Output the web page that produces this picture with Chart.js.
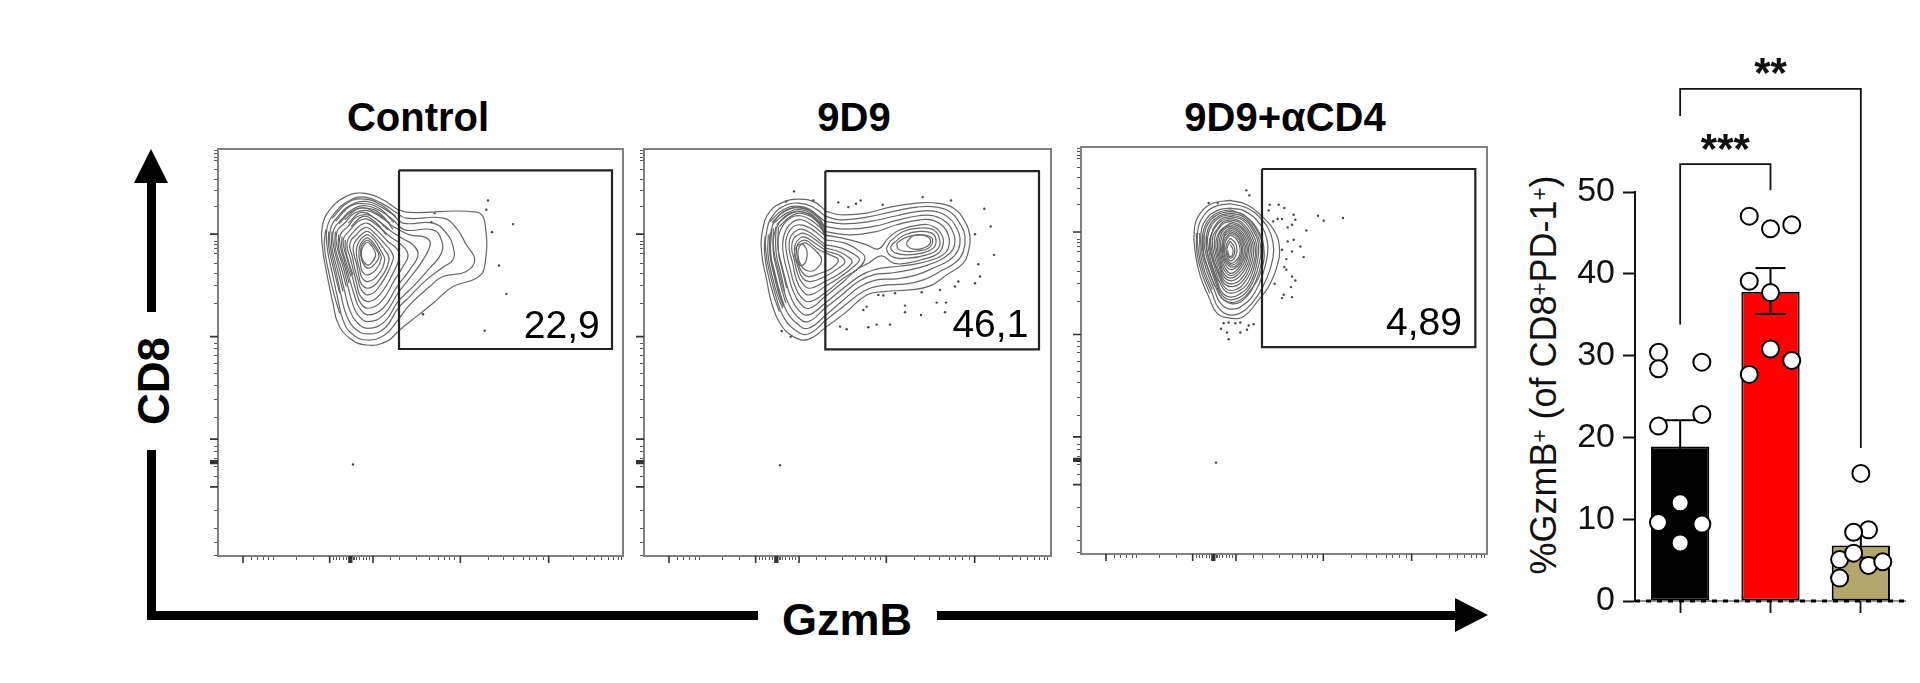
<!DOCTYPE html>
<html>
<head>
<meta charset="utf-8">
<title>GzmB flow panels</title>
<script src="https://cdn.jsdelivr.net/npm/chart.js@4"></script>
<style>
    html, body { margin: 0; padding: 0; background: #fff; }
    body { position: relative; width: 1920px; height: 683px; overflow: hidden; font-family: "Liberation Sans", Arial, sans-serif; color: #000; }
    canvas { position: absolute; }
    .label { position: absolute; line-height: 1; white-space: nowrap; }
    .head { position: absolute; font-weight: bold; font-size: 40px; top: 97px; transform: translateX(-50%); }
    .rot { transform: translate(-50%, -50%) rotate(-90deg); }
    .ink { position: absolute; background: #000; }
    .tri { position: absolute; width: 0; height: 0; }
    sup { font-size: 0.62em; line-height: 0; vertical-align: 0.42em; }
</style>
</head>
<body>
<div class="label head" style="left:418px">Control</div>
<div class="label head" style="left:854px">9D9</div>
<div class="label head" style="left:1285px">9D9+αCD4</div>

<!-- big CD8 / GzmB arrows -->
<div class="ink" style="left:147px;top:180px;width:9px;height:132px"></div>
<div class="tri" style="left:134px;top:149px;border-left:17px solid transparent;border-right:17px solid transparent;border-bottom:34px solid #000"></div>
<div class="ink" style="left:147px;top:450px;width:9px;height:170px"></div>
<div class="ink" style="left:147px;top:611px;width:611px;height:9px"></div>
<div class="ink" style="left:937px;top:611px;width:520px;height:9px"></div>
<div class="tri" style="left:1455px;top:598px;border-top:17.5px solid transparent;border-bottom:17.5px solid transparent;border-left:33px solid #000"></div>
<div class="label rot" style="left:154px;top:381px;font-size:44px;font-weight:bold">CD8</div>
<div class="label" style="left:847px;top:597px;font-size:45px;font-weight:bold;transform:translateX(-50%)">GzmB</div>
<div class="label rot" style="left:1544px;top:375px;font-size:36px;color:#111">%GzmB<sup>+</sup> (of CD8<sup>+</sup>PD-1<sup>+</sup>)</div>

<canvas id="flow0" width="419" height="421" style="left:206px;top:147px"></canvas>
<canvas id="flow1" width="421" height="421" style="left:632px;top:147px"></canvas>
<canvas id="flow2" width="420" height="421" style="left:1069px;top:145px"></canvas>
<canvas id="bars" width="420" height="640" style="left:1500px;top:0"></canvas>

<script>
// Bar chart data
const groups = ['Control', '9D9', '9D9+αCD4'];
const groupColors = ['#000000', '#ff0000', '#b3a76c'];
const barMeans = [18.9, 37.8, 6.8];
const errUpper = [22.1, 40.7, 8.3];
const errLower = [15.7, 35.1, 5.3];
const yTickStep = 10;

const controlDotX = [-0.24, -0.24, 0.24, 0.24, -0.24, 0, -0.24, 0.24, 0];
const controlDotY = [30.4, 28.4, 29.2, 22.8, 21.4, 12.0, 9.6, 9.4, 7.1];
const nineDotX = [0.765, 1, 1.235, 0.765, 1, 1, 1.235, 0.765];
const nineDotY = [47.05, 45.5, 46.0, 39.1, 37.7, 30.8, 29.4, 27.7];
const cd4DotX = [2, 2.085, 1.92, 1.765, 1.92, 2.085, 2.243, 1.765];
const cd4DotY = [15.6, 8.7, 8.4, 5.06, 5.85, 4.35, 4.8, 2.8];

const outerBracket = [[0, 59.3], [0, 62.6], [2, 62.6], [2, 18.7]];
const innerBracket = [[0, 33.8], [0, 53.4], [1, 53.4], [1, 50.2]];
const starLabels = [['**', 1, 62.8], ['***', 0.5, 53.6]];

// Flow panels: channel ranges, gates and gate percentages
const panelNames = ['Control', '9D9', '9D9+αCD4'];
const xRanges = [[-275, 940], [-318, 903], [-298, 920]];
const yRanges = [[-92, 1127], [-92, 1127], [-98, 1122]];
const gatesX = [[268, 907], [226, 867], [245, 885]];
const gatesY = [[-28, 507], [-26, 508], [-32, 502]];
const gateTexts = ['22,9', '46,1', '4,89'];
const gateTextX = [870, 835, 845];
const gateTextY = [475, 470, 465];

// Tick positions measured from the panel's top / left edge
const yMajorTicks = [255, 562, 869, 934, 938, 942, 1012];
const yMinorTicks = [4, 14, 24, 34, 62, 90, 124, 172, 277, 287, 297, 312, 342, 372, 410, 464, 582, 597, 617, 642, 672, 707, 750, 804, 892, 907, 927, 952, 982, 1082, 1137, 1179, 1217];
const xMajorTicks = [75, 335, 393, 397, 401, 465, 727, 992];
const xMinorTicks = [100, 117, 135, 153, 167, 235, 285, 345, 355, 365, 375, 385, 405, 410, 415, 425, 435, 445, 455, 517, 545, 595, 635, 660, 680, 695, 710, 810, 855, 885, 915, 935, 955, 975, 1065, 1105, 1130, 1150, 1170, 1185, 1200, 1210];

const controlContours = [
    [[265,90],[300,98],[500,97],[525,125],[525,260],[500,295],[430,320],[370,370],[320,410],[270,450],[230,485],[170,495],[120,475],[85,430],[70,370],[55,300],[38,200],[38,140],[60,90],[110,50],[160,40],[210,55]],
    [[255,95],[290,115],[400,115],[440,145],[470,195],[495,240],[470,275],[400,290],[360,320],[300,375],[265,420],[225,465],[170,480],[125,460],[100,420],[85,360],[70,290],[52,200],[52,145],[75,100],[120,62],[165,52],[215,70]],
    [[250,105],[280,130],[370,130],[410,160],[430,200],[430,240],[400,262],[350,300],[300,350],[265,385],[225,445],[175,462],[135,445],[110,405],[95,350],[80,280],[62,200],[62,150],[85,110],[125,75],[170,65],[215,82]],
    [[250,120],[285,150],[370,150],[395,180],[395,220],[360,265],[310,320],[265,365],[225,425],[175,445],[140,425],[120,390],[105,335],[90,270],[72,200],[72,150],[95,120],[130,88],[170,78],[215,95]],
    [[250,140],[300,165],[345,172],[362,190],[340,240],[300,295],[265,340],[222,405],[175,425],[145,405],[130,375],[115,320],[100,260],[82,200],[82,155],[105,130],[135,100],[170,92],[210,110]],
    [[245,155],[285,180],[310,195],[325,225],[300,270],[262,320],[220,385],[175,405],[150,385],[137,355],[122,305],[108,255],[92,200],[92,165],[115,140],[140,112],[172,105],[205,122]],
    [[240,170],[275,195],[295,225],[280,260],[255,300],[215,365],[175,385],[152,368],[140,335],[128,290],[115,245],[102,200],[102,175],[122,150],[145,125],[172,118],[200,135]],
    [[235,185],[260,205],[270,225],[255,270],[210,345],[175,365],[152,348],[142,315],[132,275],[122,235],[112,200],[115,178],[130,158],[150,138],[172,130],[198,148]],
    [[228,195],[245,215],[250,240],[205,325],[175,345],[155,330],[145,300],[135,265],[128,230],[120,200],[125,180],[140,165],[155,150],[172,143],[195,160]],
    [[222,205],[238,240],[205,305],[175,325],[155,312],[147,285],[140,250],[132,220],[132,195],[145,175],[160,160],[175,155],[195,172]],
    [[215,215],[225,240],[205,285],[175,305],[157,293],[150,270],[143,240],[140,210],[148,185],[162,170],[175,165],[195,182]],
    [[208,215],[215,235],[200,268],[175,285],[158,275],[152,250],[148,225],[150,200],[162,180],[175,175],[193,192]],
    [[192,198],[208,228],[193,255],[175,265],[160,250],[153,225],[155,200],[165,185],[176,182]],
    [[188,200],[198,225],[185,250],[172,255],[158,238],[155,215],[163,195],[175,188]],
    // denser shoulder on the left of the main population
    [[48,150],[44,200],[60,290],[75,350],[90,400]],
    [[57,155],[57,200],[75,280],[90,340]],
    [[67,155],[67,205],[85,275],[100,335]],
    [[77,155],[77,205],[95,265],[110,320]],
    [[87,165],[87,205],[105,260],[118,310]],
    [[97,170],[97,205],[112,255],[124,290]],
    [[107,180],[107,205],[118,250],[130,285]],
    [[68,115],[115,68],[165,58],[215,76],[258,110]],
    [[78,125],[120,80],[168,72],[212,88],[252,128]],
    [[88,132],[128,94],[170,85],[212,102],[250,148]],
    [[105,120],[150,85],[200,100],[240,130]],
    [[115,130],[155,98],[195,115],[235,150]],
    [[125,140],[160,110],[195,125],[230,165]]
];
const nineContours = [
    [[230,95],[270,105],[350,100],[420,82],[500,70],[560,70],[610,85],[645,125],[660,170],[655,215],[640,250],[590,285],[540,318],[480,330],[400,335],[350,345],[290,395],[230,440],[175,478],[130,470],[90,430],[65,370],[50,300],[35,220],[38,150],[60,95],[105,65],[145,58],[190,65]],
    [[228,110],[270,120],[350,112],[430,95],[500,82],[560,82],[605,100],[632,135],[645,170],[640,215],[620,245],[570,275],[520,300],[470,312],[390,318],[340,335],[280,380],[228,420],[175,462],[135,450],[100,410],[78,350],[62,290],[48,220],[50,155],[70,105],[110,75],[145,70],[185,80]],
    [[225,125],[280,132],[360,125],[440,108],[505,95],[555,95],[598,115],[620,145],[630,175],[625,210],[600,240],[555,262],[500,285],[440,297],[380,300],[330,320],[275,365],[228,405],[175,445],[140,430],[108,390],[88,335],[72,280],[60,220],[62,160],[80,115],[115,88],[148,82],[185,95]],
    [[222,140],[290,148],[370,140],[440,122],[505,108],[550,108],[590,128],[608,155],[615,180],[608,210],[580,235],[535,255],[480,270],[420,280],[370,285],[325,305],[270,350],[225,385],[175,425],[142,410],[115,370],[98,320],[85,270],[72,215],[72,165],[90,125],[120,100],[150,95],[185,108]],
    [[222,155],[300,165],[380,155],[440,135],[510,120],[550,122],[580,140],[595,165],[598,190],[585,220],[540,242],[480,255],[420,262],[380,268],[335,285],[280,325],[225,370],[175,405],[145,390],[122,350],[108,305],[95,255],[85,210],[85,170],[100,135],[125,112],[152,108],[185,122]],
    [[222,165],[300,180],[350,195],[385,207],[415,175],[450,150],[510,135],[550,140],[575,165],[580,190],[565,220],[520,238],[470,250],[430,250],[395,228],[355,250],[320,270],[275,310],[225,350],[178,385],[150,370],[128,330],[115,285],[102,235],[98,190],[108,150],[130,125],[155,120],[185,135]],
    [[225,180],[285,190],[330,215],[345,235],[325,265],[280,295],[230,335],[180,365],[152,350],[132,310],[120,265],[110,220],[108,180],[125,145],[150,135],[185,148]],
    [[225,195],[275,205],[315,225],[328,240],[305,265],[265,295],[225,320],[180,345],[155,330],[138,295],[128,250],[118,210],[120,175],[135,155],[155,148],[185,162]],
    [[228,205],[265,215],[300,235],[305,250],[270,280],[225,305],[180,325],[157,310],[142,280],[133,240],[125,205],[130,178],[145,165],[160,160],[190,175]],
    [[232,215],[265,225],[285,245],[265,265],[225,290],[180,305],[158,295],[145,265],[135,225],[135,195],[150,175],[165,172],[195,190]],
    [[240,225],[265,240],[245,265],[210,280],[175,290],[155,275],[145,250],[140,220],[142,195],[155,183],[170,182],[200,205]],
    [[195,210],[215,240],[195,270],[170,272],[152,255],[144,225],[148,200],[160,190],[172,192]],
    [[172,225],[165,250],[152,256],[138,240],[134,215],[142,198],[157,193],[168,205]],
    [[420,185],[460,155],[510,145],[550,150],[568,175],[565,205],[530,225],[470,235],[430,232],[410,210]],
    [[430,190],[465,165],[510,155],[545,160],[558,180],[550,205],[515,220],[470,225],[438,220],[422,205]],
    [[440,190],[470,172],[510,165],[540,170],[548,185],[535,205],[505,213],[470,215],[445,208]],
    [[470,187],[490,168],[520,166],[542,182],[525,203],[490,208],[472,198]],
    // dark band down the left side and over the top of the first peak
    [[45,170],[44,225],[58,300],[72,350],[88,395]],
    [[55,165],[54,225],[68,295],[82,345],[98,385]],
    [[60,160],[60,225],[73,290],[86,340],[100,380]],
    [[65,150],[62,220],[76,285],[90,340],[102,375]],
    [[70,145],[70,218],[84,282],[97,335],[108,370]],
    [[78,140],[78,215],[92,280],[104,335]],
    [[85,140],[85,215],[98,275],[110,325]],
    [[60,125],[100,90],[150,80],[200,105],[228,150]],
    [[66,128],[104,95],[152,85],[200,110],[228,155]],
    [[72,130],[110,100],[155,90],[200,118],[228,165]],
    [[80,135],[118,104],[157,96],[202,124],[228,172]],
    [[88,140],[125,108],[160,102],[205,130],[228,178]]
];
const cd4Contours = [
    [[150,62],[200,75],[245,110],[280,150],[297,200],[290,260],[265,320],[235,360],[190,410],[150,415],[110,400],[85,350],[60,290],[45,220],[42,150],[60,100],[100,70]],
    [[150,72],[200,85],[245,120],[272,165],[280,210],[272,260],[248,320],[215,370],[180,400],[145,405],[115,385],[95,340],[70,280],[55,220],[52,155],[70,108],[105,80]],
    [[150,85],[195,95],[240,135],[260,180],[262,220],[250,275],[225,335],[190,375],[150,388],[120,370],[102,330],[80,275],[65,220],[62,160],[78,118],[112,92]],
    [[150,90],[195,110],[232,150],[250,200],[245,265],[215,325],[170,365],[130,360],[105,320],[85,270],[68,215],[68,160],[85,120],[115,98]],
    [[150,95],[190,105],[225,145],[245,190],[245,240],[228,300],[200,350],[160,372],[125,355],[108,315],[90,265],[75,215],[72,165],[88,125],[118,102]],
    [[150,100],[190,112],[222,150],[240,195],[238,245],[218,305],[190,345],[152,360],[125,346],[108,305],[92,260],[80,212],[78,168],[92,130],[118,108]],
    [[150,105],[190,118],[220,155],[235,200],[230,250],[210,310],[180,342],[150,352],[125,338],[110,300],[95,255],[85,210],[82,170],[95,135],[120,112]],
    [[150,110],[188,122],[216,160],[230,202],[224,252],[203,308],[172,335],[142,338],[120,312],[105,270],[94,230],[88,190],[98,150],[122,118]],
    [[150,115],[185,128],[212,165],[225,205],[218,255],[195,305],[165,330],[135,325],[115,285],[102,245],[93,205],[92,170],[105,142],[125,122]],
    [[150,120],[182,132],[208,168],[220,207],[213,252],[190,300],[160,320],[132,312],[116,275],[105,237],[97,200],[98,168],[112,147],[128,127]],
    [[150,125],[180,138],[205,172],[215,210],[208,250],[185,295],[155,312],[130,300],[118,265],[108,230],[102,195],[105,165],[118,143],[132,130]],
    [[150,130],[180,143],[202,176],[210,210],[202,252],[178,290],[152,303],[130,290],[119,255],[110,220],[107,185],[118,155]],
    [[150,135],[178,148],[198,180],[205,210],[195,255],[172,285],[150,295],[130,280],[120,245],[112,210],[113,175],[125,150]],
    [[150,140],[176,153],[194,182],[201,212],[190,252],[168,280],[149,287],[131,270],[121,238],[116,205],[119,172],[131,150]],
    [[150,145],[175,158],[190,185],[197,215],[185,250],[165,275],[148,280],[132,260],[123,230],[120,200],[125,170],[137,153]],
    [[150,150],[174,163],[188,190],[192,218],[180,250],[160,268],[143,265],[130,243],[124,212],[128,182],[135,161]],
    [[150,155],[172,168],[185,195],[187,220],[175,250],[155,262],[138,250],[128,225],[126,195],[132,170]],
    [[150,160],[170,172],[182,198],[183,222],[170,248],[152,256],[138,243],[130,218],[130,190],[134,177]],
    [[150,165],[168,178],[178,200],[178,225],[165,245],[150,250],[138,235],[132,210],[135,185]],
    [[150,175],[165,190],[170,215],[160,238],[148,242],[138,220],[138,195]],
    [[150,185],[162,202],[162,222],[150,235],[140,218],[142,198]],
    [[150,195],[158,210],[155,228],[146,228],[142,212]],
    // extra rings where the population is darkest
    [[48,160],[50,220],[66,285],[88,340]],
    [[58,160],[60,220],[75,280],[96,330]],
    [[68,165],[70,220],[84,270],[104,320]],
    [[78,170],[80,215],[94,262],[112,305]],
    [[88,175],[90,215],[104,255],[120,292]]
];
const controlDots = [[535,62],[530,90],[610,133],[547,157],[568,257],[590,342],[525,452],[340,403],[375,100],[365,127],[130,853]];
const nineDots = [[132,35],[190,62],[108,65],[265,68],[295,82],[318,72],[332,62],[398,75],[518,52],[603,62],[703,87],[722,140],[732,225],[685,253],[675,310],[690,290],[560,368],[588,368],[585,397],[465,377],[465,397],[513,405],[380,434],[355,442],[420,434],[290,448],[270,440],[340,390],[350,380],[570,330],[515,337],[435,340],[385,345],[400,347],[615,320],[625,305],[675,163],[90,855],[95,453],[122,470]];
const cd4Dots = [[198,32],[207,47],[268,75],[295,75],[312,85],[265,92],[340,105],[345,120],[335,135],[322,143],[292,118],[305,118],[278,125],[378,152],[413,108],[430,123],[488,115],[340,180],[322,185],[360,200],[305,210],[370,232],[335,215],[318,238],[312,262],[318,270],[335,290],[345,302],[283,312],[332,322],[310,345],[335,352],[305,355],[130,430],[145,428],[165,430],[180,428],[205,437],[220,433],[122,447],[140,458],[180,458],[145,478],[200,450],[112,70],[85,70],[107,848]];

const allContours = [controlContours, nineContours, cd4Contours];
const allDots = [controlDots, nineDots, cd4Dots];
const FONT = '"Liberation Sans", Arial, sans-serif';

// Frame, long ticks and the gate percentage of one flow panel
const flowPanelPlugin = {
    id: 'flowPanel',
    afterDatasetsDraw(chart, args, opts) {
        const { ctx, chartArea: a, scales: { x, y } } = chart;
        ctx.save();
        ctx.strokeStyle = '#808080';
        ctx.lineWidth = 2;
        ctx.strokeRect(a.left, a.top, a.right - a.left, a.bottom - a.top);
        ctx.strokeStyle = '#333';
        ctx.lineWidth = 1.6;
        ctx.beginPath();
        yMajorTicks.forEach(t => {
            const py = y.getPixelForValue(y.min + t);
            ctx.moveTo(a.left - 8, py);
            ctx.lineTo(a.left, py);
        });
        xMajorTicks.forEach(t => {
            const px = x.getPixelForValue(x.min + t);
            ctx.moveTo(px, a.bottom);
            ctx.lineTo(px, a.bottom + 7);
        });
        ctx.stroke();
        ctx.fillStyle = '#000';
        ctx.font = '39px ' + FONT;
        ctx.textAlign = 'right';
        ctx.textBaseline = 'alphabetic';
        ctx.fillText(opts.text, x.getPixelForValue(opts.textX), y.getPixelForValue(opts.textY));
        ctx.restore();
    }
};

function makeFlowChart(i) {
    const gx = gatesX[i], gy = gatesY[i];
    const datasets = allContours[i].map(loop => ({
        data: loop.concat(loop.length > 5 ? [loop[0]] : []).map(p => ({ x: p[0], y: p[1] })),
        showLine: true,
        tension: 0.45,
        borderColor: '#666666',
        borderWidth: 1.2,
        pointRadius: 0
    }));
    datasets.push({
        data: allDots[i].map(p => ({ x: p[0], y: p[1] })),
        showLine: false,
        pointRadius: 1.2,
        pointBorderWidth: 0,
        pointBackgroundColor: '#444'
    });
    datasets.push({
        data: [[gx[0], gy[0]], [gx[1], gy[0]], [gx[1], gy[1]], [gx[0], gy[1]], [gx[0], gy[0]]].map(p => ({ x: p[0], y: p[1] })),
        showLine: true,
        borderColor: '#222',
        borderWidth: 2.2,
        pointRadius: 0,
        order: -1
    });

    new Chart(document.getElementById('flow' + i), {
        type: 'scatter',
        data: { datasets },
        plugins: [flowPanelPlugin],
        options: {
            responsive: false,
            animation: false,
            layout: { autoPadding: false, padding: { top: 2, right: 2 } },
            scales: {
                x: {
                    type: 'linear',
                    min: xRanges[i][0],
                    max: xRanges[i][1],
                    afterBuildTicks: s => { s.ticks = xMinorTicks.map(t => ({ value: s.min + t })); },
                    afterFit: s => { s.height = 12; },
                    ticks: { display: false, autoSkip: false },
                    grid: { drawOnChartArea: false, tickLength: 4, tickColor: '#555', tickWidth: 1 },
                    border: { display: false }
                },
                y: {
                    type: 'linear',
                    reverse: true,
                    min: yRanges[i][0],
                    max: yRanges[i][1],
                    afterBuildTicks: s => { s.ticks = yMinorTicks.map(t => ({ value: s.min + t })); },
                    afterFit: s => { s.width = 12; },
                    ticks: { display: false, autoSkip: false },
                    grid: { drawOnChartArea: false, tickLength: 4, tickColor: '#555', tickWidth: 1 },
                    border: { display: false }
                }
            },
            plugins: {
                legend: { display: false },
                tooltip: { enabled: false },
                flowPanel: { text: gateTexts[i], textX: gateTextX[i], textY: gateTextY[i] }
            }
        }
    });
}

// Significance stars over the brackets
const starPlugin = {
    id: 'stars',
    afterDatasetsDraw(chart) {
        const { ctx, scales: { xDots, y } } = chart;
        ctx.save();
        ctx.fillStyle = '#111';
        ctx.font = 'bold 42px ' + FONT;
        ctx.textAlign = 'center';
        ctx.textBaseline = 'alphabetic';
        starLabels.forEach(s => {
            ctx.fillText(s[0], xDots.getPixelForValue(s[1]), y.getPixelForValue(s[2]));
        });
        ctx.restore();
    }
};

function lineSet(points, extra) {
    return Object.assign({
        type: 'line',
        xAxisID: 'xDots',
        yAxisID: 'y',
        data: points.map(p => ({ x: p[0], y: p[1] })),
        borderColor: '#111',
        borderWidth: 1.8,
        pointRadius: 0,
        tension: 0,
        clip: false
    }, extra);
}

function makeBarChart() {
    const errorSets = groups.map((g, i) => lineSet([[i, errLower[i]], [i, errUpper[i]]], {
        borderColor: '#000',
        borderWidth: 2,
        pointStyle: 'line',
        pointRadius: 15,
        pointBorderColor: '#000',
        pointBorderWidth: 2,
        order: 3
    }));
    const dotSets = [[controlDotX, controlDotY], [nineDotX, nineDotY], [cd4DotX, cd4DotY]].map(d => ({
        type: 'scatter',
        xAxisID: 'xDots',
        yAxisID: 'y',
        data: d[0].map((x, k) => ({ x, y: d[1][k] })),
        pointRadius: 8.5,
        pointBorderWidth: 2,
        pointBorderColor: '#000',
        pointBackgroundColor: '#fff',
        clip: false,
        order: 1
    }));

    new Chart(document.getElementById('bars'), {
        data: {
            labels: groups,
            datasets: [
                {
                    type: 'bar',
                    data: barMeans,
                    backgroundColor: groupColors,
                    borderColor: '#000',
                    borderWidth: 2,
                    borderSkipped: false,
                    grouped: false,
                    barPercentage: 0.645,
                    categoryPercentage: 1,
                    order: 5
                },
                ...errorSets,
                ...dotSets,
                lineSet(outerBracket, { order: 4 }),
                lineSet(innerBracket, { order: 4 }),
                // zero line: thin solid rule with heavy dashes on top
                lineSet([[-0.5, 0], [2.5, 0]], { borderColor: '#222', borderWidth: 1, order: 0 }),
                lineSet([[-0.5, 0], [2.5, 0]], { borderColor: '#000', borderWidth: 3, borderDash: [5, 6], order: -1 })
            ]
        },
        plugins: [starPlugin],
        options: {
            responsive: false,
            animation: false,
            layout: { autoPadding: false, padding: { top: 192, right: 14, bottom: 25 } },
            scales: {
                x: {
                    type: 'category',
                    afterFit: s => { s.height = 14; },
                    ticks: { display: false },
                    grid: { offset: false, drawOnChartArea: false, tickLength: 12, tickColor: '#111', tickWidth: 1.8 },
                    border: { display: false }
                },
                xDots: { type: 'linear', display: false, min: -0.5, max: 2.5 },
                y: {
                    min: 0,
                    max: 50,
                    afterFit: s => { s.width = 135; },
                    ticks: { stepSize: yTickStep, color: '#111', padding: 8, font: { family: FONT, size: 34 } },
                    grid: { drawOnChartArea: false, tickLength: 12, tickColor: '#111', tickWidth: 2 },
                    border: { color: '#111', width: 2 }
                }
            },
            plugins: { legend: { display: false }, tooltip: { enabled: false } }
        }
    });
}

panelNames.forEach((n, i) => makeFlowChart(i));
makeBarChart();
</script>
</body>
</html>
